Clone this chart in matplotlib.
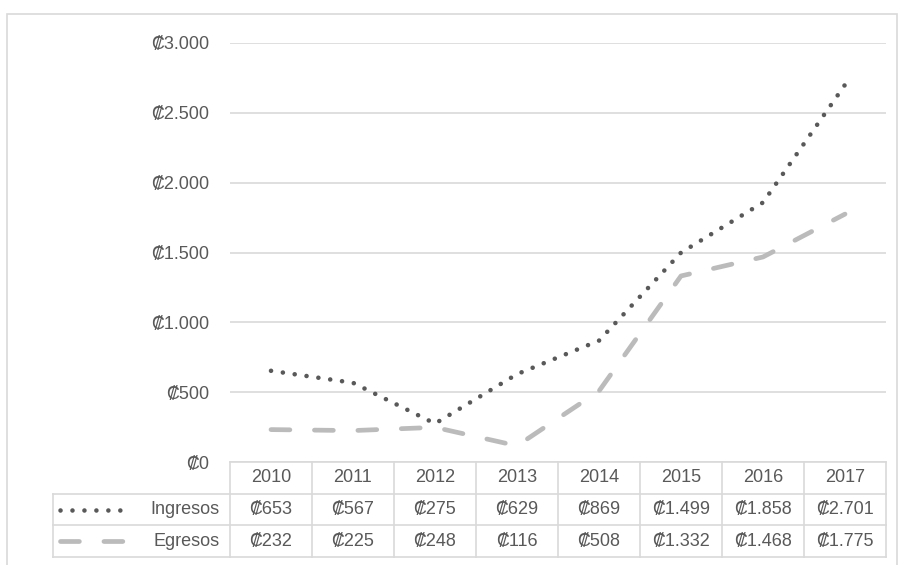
import matplotlib

matplotlib.use("Agg")
import matplotlib.pyplot as plt
from matplotlib.lines import Line2D
from matplotlib.patches import Rectangle

plt.rcParams["font.family"] = ["Liberation Sans", "DejaVu Sans"]

years = ["2010", "2011", "2012", "2013", "2014", "2015", "2016", "2017"]
ingresos = [653, 567, 275, 629, 869, 1499, 1858, 2701]
egresos = [232, 225, 248, 116, 508, 1332, 1468, 1775]
series_names = ["Ingresos", "Egresos"]
y_ticks = [0, 500, 1000, 1500, 2000, 2500, 3000]

TXT = "#595959"
GRID = "#d9d9d9"
C_ING = "#595959"
C_EGR = "#bbbbbb"
W, H = 898, 565
FS = 13


def colon(v):
    # Excel style: thousands separated by a dot
    return "\u20a1" + f"{v:,}".replace(",", ".")


def fig_rect(x0, y0, x1, y1):
    # pixel box (top-left origin) -> figure fraction rect
    return [x0 / W, 1 - y1 / H, (x1 - x0) / W, (y1 - y0) / H]


fig = plt.figure(figsize=(W / 100, H / 100), dpi=100)

# outer chart border
fig.patches.append(Rectangle((7 / W, -0.01), (897 - 7) / W, 1 - 14 / H + 0.01,
                             transform=fig.transFigure, fill=False,
                             edgecolor=GRID, lw=1.2))

ING_STYLE = dict(color=C_ING, lw=3.3, dashes=(0.01, 2.6), dash_capstyle="round")
EGR_STYLE = dict(color=C_EGR, lw=3.4, dashes=(4.0, 5.2), dash_capstyle="round")

x = list(range(len(years)))
ax = fig.add_axes(fig_rect(230, 43, 886, 462))
ax.plot(x, ingresos, **ING_STYLE)
ax.plot(x, egresos, **EGR_STYLE)
ax.set_xlim(-0.5, len(years) - 0.5)
ax.set_ylim(0, 3000)
ax.set_yticks(y_ticks)
ax.set_yticklabels([colon(v) for v in y_ticks])
ax.set_xticks([])
ax.tick_params(axis="y", length=0, pad=15, labelsize=FS, labelcolor=TXT)
ax.grid(axis="y", color=GRID, lw=1.2)
ax.set_axisbelow(True)
for s in ax.spines.values():
    s.set_visible(False)

# data table under the plot
n = len(years)
left_ext = (230 - 53) / ((886 - 230) / n)
tax = fig.add_axes(fig_rect(53, 462, 886, 557))
tax.set_xlim(-0.5 - left_ext, n - 0.5)
tax.set_ylim(3, 0)
tax.axis("off")
lx0 = -0.5 - left_ext
lkw = dict(color=GRID, lw=1.2, clip_on=False)
tax.add_line(Line2D([-0.5, n - 0.5], [0, 0], **lkw))
for r in (1, 2, 3):
    tax.add_line(Line2D([lx0, n - 0.5], [r, r], **lkw))
tax.add_line(Line2D([lx0, lx0], [1, 3], **lkw))
for i in range(n + 1):
    tax.add_line(Line2D([i - 0.5, i - 0.5], [0, 3], **lkw))

tkw = dict(ha="center", va="center", fontsize=FS, color=TXT)
for i, yr in enumerate(years):
    tax.text(i, 0.5, yr, **tkw)
    tax.text(i, 1.5, colon(ingresos[i]), **tkw)
    tax.text(i, 2.5, colon(egresos[i]), **tkw)

# legend keys inside the table
key_x = [lx0 + 0.09, lx0 + 0.86]
tax.add_line(Line2D(key_x, [1.5, 1.5], clip_on=False, **ING_STYLE))
tax.add_line(Line2D(key_x, [2.5, 2.5], clip_on=False, **EGR_STYLE))
for r, name in enumerate(series_names):
    tax.text(-0.5 - 0.13, r + 1.5, name, ha="right", va="center",
             fontsize=FS, color=TXT)

fig.savefig("out.png", dpi=100)
